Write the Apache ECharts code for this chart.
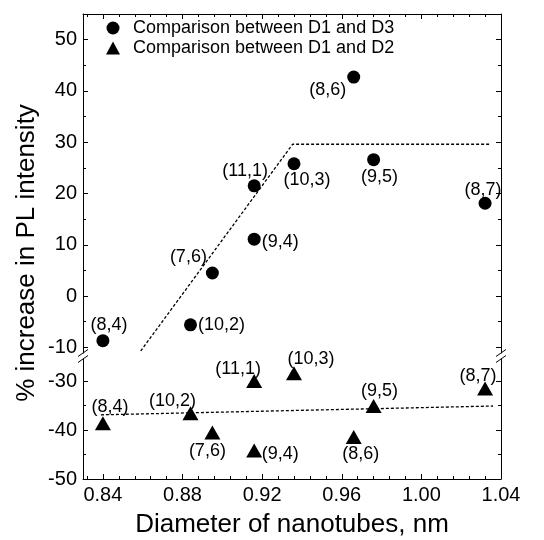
<!DOCTYPE html>
<html><head><meta charset="utf-8">
<script src="https://cdn.jsdelivr.net/npm/echarts@6/dist/echarts.min.js"></script>
<style>html,body{margin:0;padding:0;background:#fff}#c{width:544px;height:540px}</style>
</head><body><div id="c"></div>
<script>
// ---- data ----
const chiralities = ['(8,4)','(10,2)','(7,6)','(9,4)','(11,1)','(10,3)','(8,6)','(9,5)','(8,7)'];
const diameters   = [0.840, 0.884, 0.895, 0.916, 0.916, 0.936, 0.966, 0.976, 1.032];
const d1d3        = [-8.7, -5.6, 4.5, 11.1, 21.5, 25.8, 42.7, 26.6, 18.1];
const d1d2        = [-38.6, -36.6, -40.5, -44.2, -30.0, -28.4, -41.4, -35.1, -31.5];
const fitUpperX   = [0.859, 0.9353, 1.035];
const fitUpperY   = [-10.7, 29.6, 29.6];
const fitLowerX   = [0.839, 1.036];
const fitLowerY   = [-36.9, -35.1];
const xTicks      = [0.84, 0.88, 0.92, 0.96, 1.00, 1.04];
const yUpperTicks = [-10, 0, 10, 20, 30, 40, 50];
const yLowerTicks = [-50, -40, -30];
const nameD1D3 = 'Comparison between D1 and D3';
const nameD1D2 = 'Comparison between D1 and D2';

// ---- label placement (offsets from the marker centre) ----
const offD1D3 = [[6,-16],[31,0],[-24,-16],[26,3],[-9,-15],[13,16],[-26,13],[6,17],[-2,-13]];
const offD1D2 = [[7,-16],[-18,-12],[-5,19],[26,3],[-16,-12],[17,-14],[7,17],[6,-15],[-7,-12]];

// ---- layout ----
const FONT = 'Liberation Sans, Arial, sans-serif';
const L = 83, R = 501, TOP = 14, BRK1 = 353, BRK2 = 359, BOT = 479;
const xMin = 0.83, xMax = 1.04;
const upMin = -11.1, upMax = 55, loMin = -50, loMax = -25.5;

function minorBetween(majors, n, lo, hi) {
  const out = [];
  const step = (majors[1] - majors[0]) / n;
  for (let v = majors[0] - step; v > lo + 1e-9; v -= step) out.push(+v.toFixed(6));
  for (let i = 0; i < majors.length; i++) {
    for (let k = 1; k < n; k++) {
      const v = majors[i] + k * step;
      if (v < hi - 1e-9) out.push(+v.toFixed(6));
    }
  }
  return out;
}
const xMinor = minorBetween(xTicks, 5, xMin, xMax);
const yUpMinor = minorBetween(yUpperTicks, 2, upMin, upMax);
const yLoMinor = minorBetween(yLowerTicks, 2, loMin, loMax);

const line = {show: true, onZero: false, lineStyle: {color: '#000', width: 1}};
const noLine = {show: false, onZero: false};
function xAx(grid, pos, vals, len, major) {
  return {
    type: 'value', gridIndex: grid, position: pos, min: xMin, max: xMax,
    axisLine: major ? line : noLine,
    axisTick: {show: true, inside: true, length: len, customValues: vals, lineStyle: {color: '#000', width: 1}},
    axisLabel: (major && pos === 'bottom') ? {show: true, customValues: vals, margin: 6, color: '#000',
      fontFamily: FONT, fontSize: 20, formatter: v => v.toFixed(2)} : {show: false},
    splitLine: {show: false}
  };
}
function yAx(grid, pos, vals, len, major, mn, mx) {
  return {
    type: 'value', gridIndex: grid, position: pos, min: mn, max: mx,
    axisLine: major ? line : noLine,
    axisTick: {show: true, inside: true, length: len, customValues: vals, lineStyle: {color: '#000', width: 1}},
    axisLabel: (major && pos === 'left') ? {show: true, customValues: vals, margin: 6, color: '#000',
      fontFamily: FONT, fontSize: 20, formatter: v => String(v)} : {show: false},
    splitLine: {show: false}
  };
}

const xAxes = [
  xAx(0, 'top', xTicks, 5, true),
  xAx(0, 'top', xMinor, 3, false),
  xAx(1, 'bottom', xTicks, 5, true),
  xAx(1, 'bottom', xMinor, 3, false)
];
xAxes[2].name = 'Diameter of nanotubes, nm';
xAxes[2].nameLocation = 'middle';
xAxes[2].nameGap = 33;
xAxes[2].nameTextStyle = {fontFamily: FONT, fontSize: 26, color: '#000'};

const yAxes = [
  yAx(0, 'left', yUpperTicks, 5, true, upMin, upMax),
  yAx(0, 'left', yUpMinor, 3, false, upMin, upMax),
  yAx(0, 'right', yUpperTicks, 5, true, upMin, upMax),
  yAx(0, 'right', yUpMinor, 3, false, upMin, upMax),
  yAx(1, 'left', yLowerTicks, 5, true, loMin, loMax),
  yAx(1, 'left', yLoMinor, 3, false, loMin, loMax),
  yAx(1, 'right', yLowerTicks, 5, true, loMin, loMax),
  yAx(1, 'right', yLoMinor, 3, false, loMin, loMax)
];

const labelBase = {show: true, position: 'inside', color: '#000', fontFamily: FONT, fontSize: 18};
function pts(ys, offs) {
  return diameters.map((d, i) => ({
    value: [d, ys[i]],
    label: Object.assign({}, labelBase, {formatter: chiralities[i], offset: offs[i]})
  }));
}

// break marks
const breakMarks = [];
[L, R].forEach(x => [BRK1, BRK2].forEach(y => {
  breakMarks.push({type: 'line', shape: {x1: x - 5, y1: y + 3.5, x2: x + 5, y2: y - 3.5},
    style: {stroke: '#000', lineWidth: 1}, z: 10});
}));

const option = {
  animation: false,
  backgroundColor: '#fff',
  grid: [
    {left: L, width: R - L, top: TOP, height: BRK1 - TOP},
    {left: L, width: R - L, top: BRK2, height: BOT - BRK2}
  ],
  xAxis: xAxes,
  yAxis: yAxes,
  legend: {
    orient: 'vertical', left: 101, top: 14, itemWidth: 14, itemHeight: 13, itemGap: 2,
    textStyle: {fontFamily: FONT, fontSize: 18, color: '#000', padding: [0, 0, 0, 8]},
    data: [nameD1D3, nameD1D2]
  },
  graphic: breakMarks.concat([{
    type: 'text', x: 27, y: 253, rotation: Math.PI / 2,
    style: {text: '% increase in PL intensity', font: '26px ' + FONT, fill: '#000',
      textAlign: 'center', textVerticalAlign: 'middle'}
  }]),
  series: [
    {name: nameD1D3, type: 'scatter', xAxisIndex: 0, yAxisIndex: 0, symbol: 'circle', symbolSize: 13,
      itemStyle: {color: '#000', opacity: 1}, data: pts(d1d3, offD1D3), z: 5},
    {name: nameD1D2, type: 'scatter', xAxisIndex: 2, yAxisIndex: 4, symbol: 'triangle', symbolSize: [16, 14],
      itemStyle: {color: '#000', opacity: 1}, data: pts(d1d2, offD1D2), z: 5},
    {name: 'fitUpper', type: 'line', xAxisIndex: 0, yAxisIndex: 0, showSymbol: false, symbol: 'none',
      lineStyle: {color: '#000', width: 1.3, type: [3, 2]}, data: fitUpperX.map((x, i) => [x, fitUpperY[i]])},
    {name: 'fitLower', type: 'line', xAxisIndex: 2, yAxisIndex: 4, showSymbol: false, symbol: 'none',
      lineStyle: {color: '#000', width: 1.3, type: [3, 2]}, data: fitLowerX.map((x, i) => [x, fitLowerY[i]])}
  ]
};
echarts.init(document.getElementById('c'), null, {renderer: 'canvas'}).setOption(option);
</script>
</body></html>
